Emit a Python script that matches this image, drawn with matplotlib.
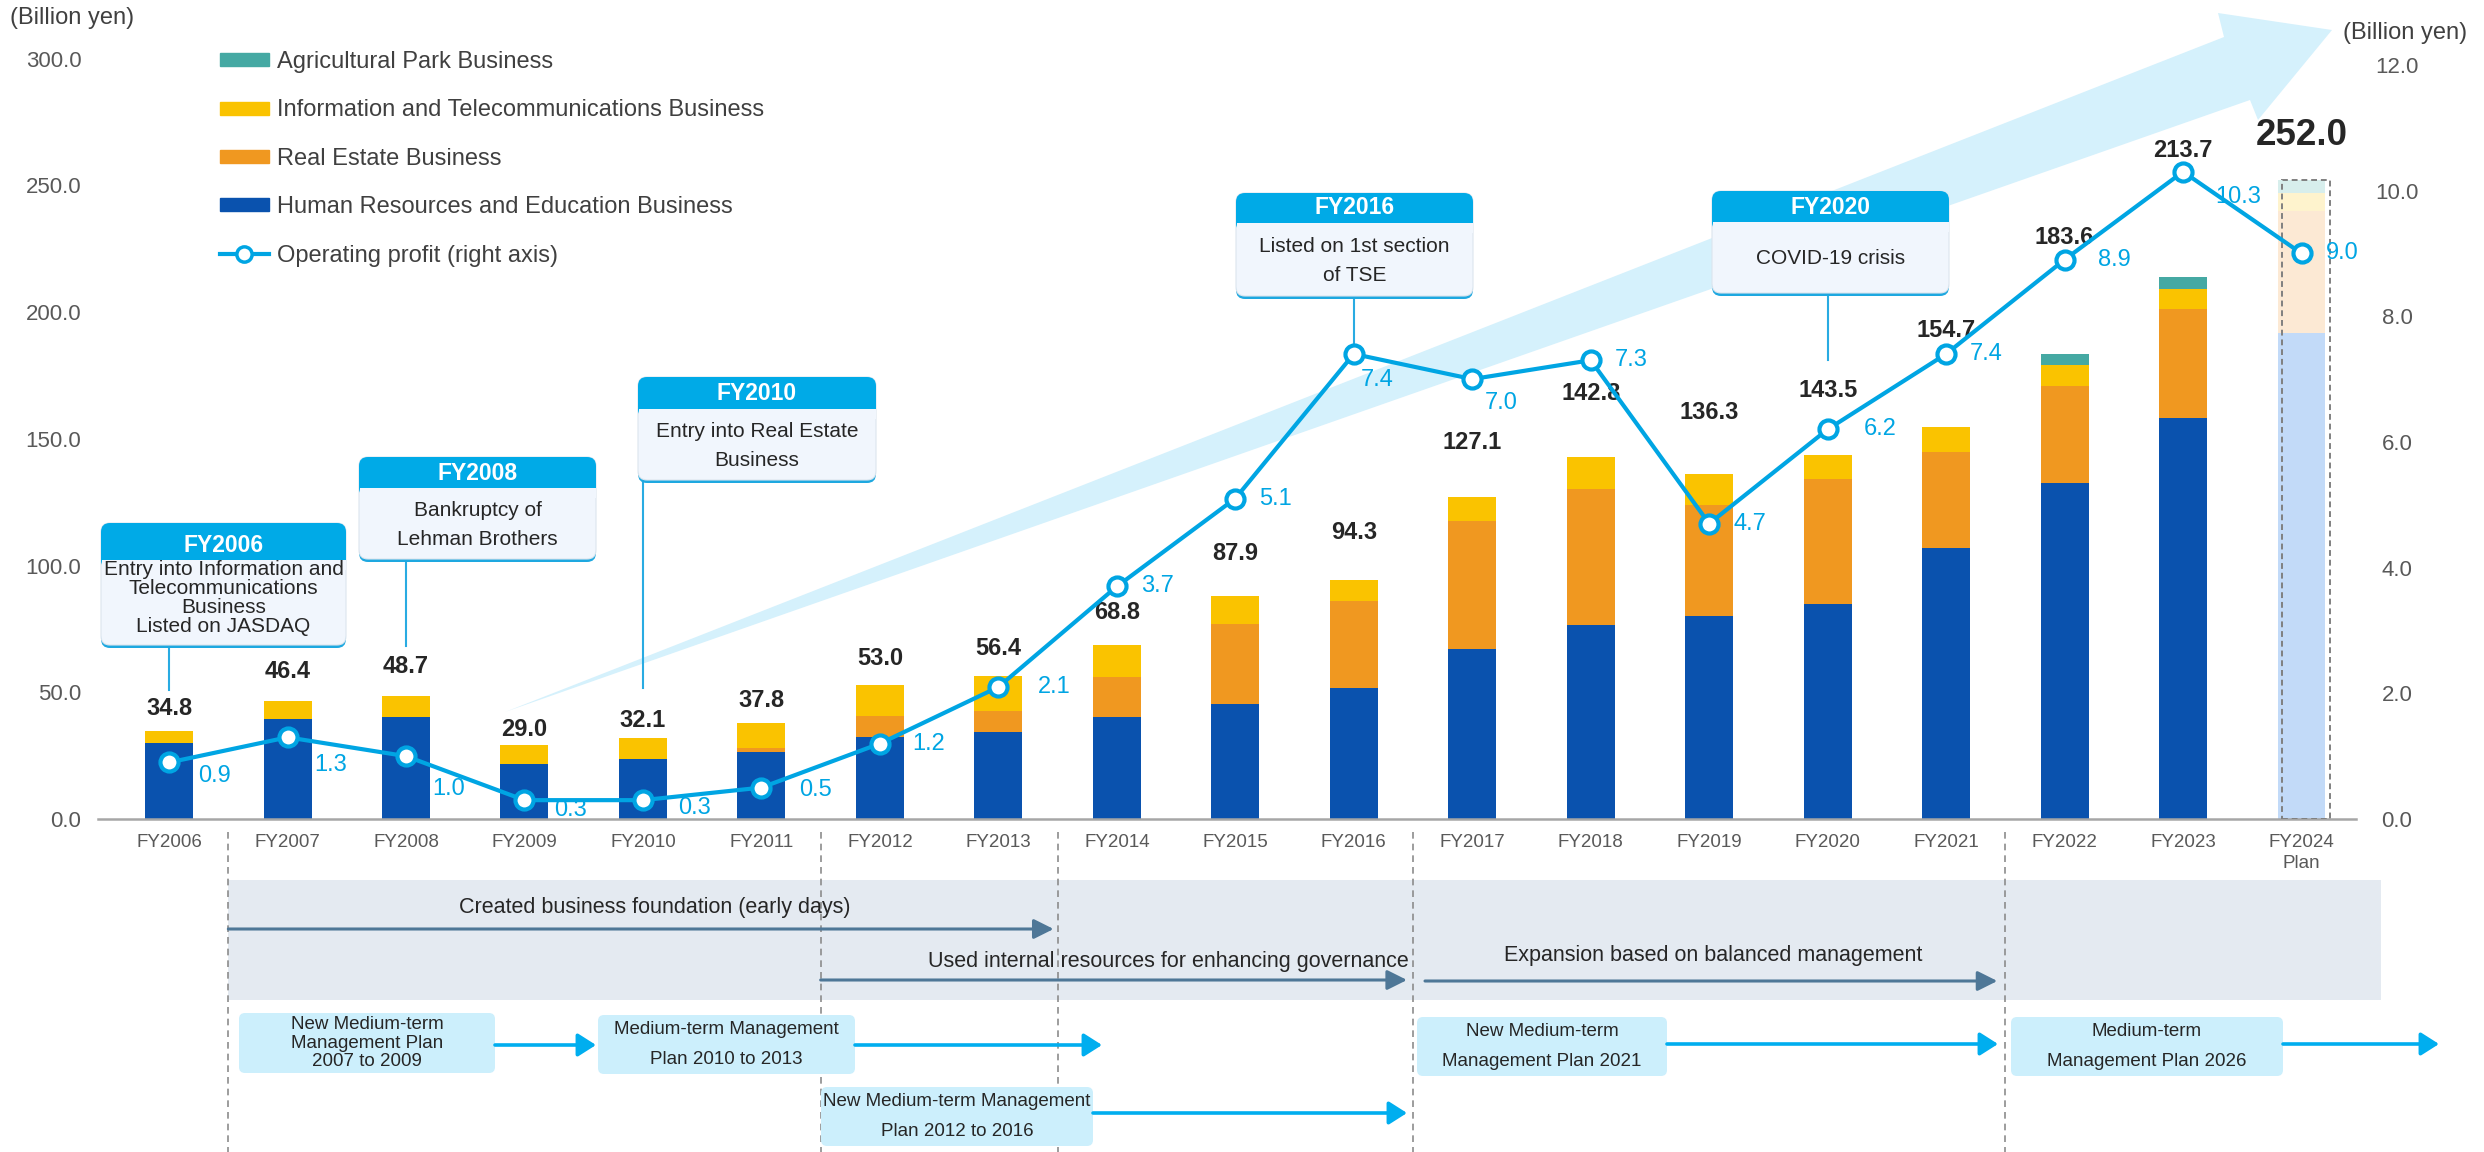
import matplotlib.pyplot as plt
from matplotlib.patches import Rectangle, FancyBboxPatch, Polygon, Patch
from matplotlib.lines import Line2D

plt.rcParams['font.family'] = ['Liberation Sans', 'DejaVu Sans']

# ---- data (billion yen) ----
years = ['FY2006', 'FY2007', 'FY2008', 'FY2009', 'FY2010', 'FY2011', 'FY2012',
         'FY2013', 'FY2014', 'FY2015', 'FY2016', 'FY2017', 'FY2018', 'FY2019',
         'FY2020', 'FY2021', 'FY2022', 'FY2023', 'FY2024\nPlan']
hr_edu = [29.8, 39.4, 40.3, 21.8, 23.8, 26.6, 32.2, 34.2, 40.3, 45.3, 51.5,
          67.2, 76.7, 80.1, 84.8, 106.8, 132.7, 158.2, 191.9]
real_estate = [0, 0, 0, 0, 0, 1.6, 8.3, 8.4, 15.6, 31.7, 34.6,
               50.5, 53.5, 43.7, 49.5, 38.0, 38.2, 43.2, 47.8]
info_tel = [5.0, 7.0, 8.4, 7.2, 8.3, 9.6, 12.5, 13.8, 12.9, 10.9, 8.2,
            9.4, 12.6, 12.5, 9.2, 9.9, 8.3, 7.6, 7.2]
agri_park = [0, 0, 0, 0, 0, 0, 0, 0, 0, 0, 0, 0, 0, 0, 0, 0, 4.4, 4.7, 5.1]
op_profit = [0.9, 1.3, 1.0, 0.3, 0.3, 0.5, 1.2, 2.1, 3.7, 5.1, 7.4,
             7.0, 7.3, 4.7, 6.2, 7.4, 8.9, 10.3, 9.0]

event_years = ['FY2006', 'FY2008', 'FY2010', 'FY2016', 'FY2020']
event_texts = ['Entry into Information and\nTelecommunications\nBusiness\nListed on JASDAQ',
               'Bankruptcy of\nLehman Brothers',
               'Entry into Real Estate\nBusiness',
               'Listed on 1st section\nof TSE',
               'COVID-19 crisis']

phase_texts = ['Created business foundation (early days)',
               'Used internal resources for enhancing governance',
               'Expansion based on balanced management']
plan_texts = ['New Medium-term\nManagement Plan\n2007 to 2009',
              'Medium-term Management\nPlan 2010 to 2013',
              'New Medium-term Management\nPlan 2012 to 2016',
              'New Medium-term\nManagement Plan 2021',
              'Medium-term\nManagement Plan 2026']

# ---- colours ----
C_HR, C_RE, C_IT, C_AG = '#0A52AE', '#F09820', '#FAC300', '#45A9A3'
P_HR, P_RE, P_IT, P_AG = '#C2DAF8', '#FCE9D4', '#FEF3CD', '#D7EEEC'
C_OP = '#00A5E3'
TXT = '#262626'
TICK = '#595959'

W, H = 2484, 1152
fig = plt.figure(figsize=(W / 100, H / 100), dpi=100)

# full-canvas pixel frame (y downwards) for the decorations
bg = fig.add_axes([0, 0, 1, 1])
bg.set_xlim(0, W)
bg.set_ylim(H, 0)
bg.axis('off')

ax = fig.add_axes([98 / W, 1 - 819 / H, (2356 - 98) / W, (819 - 58.6) / H])
ax.set_xlim(-0.6, 18.46)
ax.set_ylim(0, 300)
ax2 = ax.twinx()
ax2.set_ylim(0, 12.1)
bg.set_zorder(1)
ax.set_zorder(2)
ax2.set_zorder(3)
ax.patch.set_visible(False)
ax2.patch.set_visible(False)


def xp(i):
    """pixel column of a category position"""
    return ax.transData.transform((i, 0))[0]


n = len(years)
x = list(range(n))
plan = n - 1
bw = 0.405


def cols(c, p):
    return [c] * plan + [p]


# ---- stacked bars ----
b1 = hr_edu
b2 = [a + b for a, b in zip(b1, real_estate)]
b3 = [a + b for a, b in zip(b2, info_tel)]
totals = [a + b for a, b in zip(b3, agri_park)]
ax.bar(x, hr_edu, width=bw, color=cols(C_HR, P_HR), zorder=2)
ax.bar(x, real_estate, width=bw, bottom=b1, color=cols(C_RE, P_RE), zorder=2)
ax.bar(x, info_tel, width=bw, bottom=b2, color=cols(C_IT, P_IT), zorder=2)
ax.bar(x, agri_park, width=bw, bottom=b3, color=cols(C_AG, P_AG), zorder=2)
ax.add_patch(Rectangle((plan - bw / 2 + 0.04, 0), bw, totals[plan], fill=False,
                       ec='#808080', lw=1.4, ls=(0, (3, 2)), zorder=3))

label_pad = [8.6, 11.6, 11.3, 6.5, 6.6, 8.8, 10.5, 11, 12.5, 17, 18.6,
             21.6, 25, 24, 25.5, 38, 46, 50, 17.5]
for i, t in enumerate(totals):
    ax.text(i, t + label_pad[i], f'{t:.1f}', ha='center', va='center',
            fontsize=26.5 if i == plan else 17, fontweight='bold', color=TXT, zorder=5)

# ---- operating profit ----
ax2.plot(x, op_profit, color=C_OP, lw=3, marker='o', ms=13, mfc='white',
         mec=C_OP, mew=3, zorder=4)
op_off = [(33, -10), (31, -20), (31, -24), (33, -7), (37, -6), (39, -2), (35, 0),
          (40, 0), (29, 0), (29, 0), (17, -19), (21, -17), (29, 0), (29, 0),
          (38, 0), (29, 0), (36, 0), (40, -18), (29, 0)]
for i, v in enumerate(op_profit):
    ax2.annotate(f'{v:.1f}', (i, v), xytext=op_off[i], textcoords='offset points',
                 ha='center', va='center', fontsize=17, color=C_OP)

# ---- axes styling ----
for s in ['top', 'left', 'right']:
    ax.spines[s].set_visible(False)
for s in ax2.spines.values():
    s.set_visible(False)
ax.spines['bottom'].set_color('#A6A6A6')
ax.spines['bottom'].set_linewidth(1.8)

ax.set_xticks(x)
ax.set_xticklabels(years)
ax.set_yticks(range(0, 301, 50))
ax.set_yticklabels([f'{v:.1f}' for v in range(0, 301, 50)])
ax.tick_params(axis='both', length=0, labelcolor=TICK)
ax.tick_params(axis='y', labelsize=16, pad=12)
ax.tick_params(axis='x', labelsize=13.5, pad=11)
for lbl in ax.get_xticklabels():
    lbl.set_linespacing(1.25)

ax2.set_yticks(range(0, 13, 2))
ax2.set_yticklabels([f'{v:.1f}' for v in range(0, 13, 2)])
ax2.tick_params(axis='y', length=0, labelsize=16, labelcolor=TICK, pad=29.5)
for lbl in ax2.get_yticklabels():
    lbl.set_ha('center')

bg.text(10, 18, '(Billion yen)', ha='left', va='center', fontsize=17, color='#404040')
bg.text(2405, 33, '(Billion yen)', ha='center', va='center', fontsize=17, color='#404040')

# ---- legend ----
handles = [Patch(color=C_AG), Patch(color=C_IT), Patch(color=C_RE), Patch(color=C_HR),
           Line2D([], [], color=C_OP, lw=3, marker='o', ms=11, mfc='white', mew=2.5)]
labels = ['Agricultural Park Business', 'Information and Telecommunications Business',
          'Real Estate Business', 'Human Resources and Education Business',
          'Operating profit (right axis)']
leg = bg.legend(handles, labels, loc='upper left', bbox_to_anchor=(220 / W, 1 - 51 / H),
                frameon=False, fontsize=17, handlelength=2.07, handleheight=0.47,
                handletextpad=0.35, labelspacing=1.12, borderpad=0, borderaxespad=0)
for t in leg.get_texts():
    t.set_color('#404040')

# ---- growth arrow in the background ----
bg.add_patch(Polygon([(505, 712), (2224, 37), (2218, 13), (2332, 30), (2258, 120), (2250, 100)],
                     closed=True, fc='#D5F1FC', ec='none', zorder=1))

# ---- event callouts ----
box_geom = [(101, 346, 523, 560, 645, 545, 598, 1.0, 690),
            (359, 596, 457, 488, 559, 473, 525, 1.7, 646),
            (638, 876, 377, 409, 480, 393, 446, 1.7, 688),
            (1236, 1473, 193, 223, 296, 208, 261, 1.7, 345),
            (1712, 1949, 191, 222, 293, 207, 258, 1.7, 360)]
r = 9
for yr, txt, g in zip(event_years, event_texts, box_geom):
    x0, x1, top, mid, bot, ty, by, ls, end = g
    w = x1 - x0
    rs = f'round,pad=0,rounding_size={r}'
    bg.add_patch(FancyBboxPatch((x0, top), w, bot - top + 3, boxstyle=rs,
                                fc='#1EA8E0', ec='none', zorder=3))
    bg.add_patch(FancyBboxPatch((x0, top), w, bot - top, boxstyle=rs,
                                fc='#F1F6FD', ec='#DCE5EE', lw=0.8, zorder=4))
    bg.add_patch(FancyBboxPatch((x0, top), w, mid - top + r, boxstyle=rs,
                                fc='#00AAE7', ec='none', zorder=5))
    bg.add_patch(Rectangle((x0 + 0.5, mid), w - 1, r + 1, fc='#F1F6FD', ec='none', zorder=6))
    bg.text((x0 + x1) / 2, ty, yr, ha='center', va='center', fontsize=16.5,
            fontweight='bold', color='white', zorder=7)
    bg.text((x0 + x1) / 2, by, txt, ha='center', va='center', fontsize=15,
            color=TXT, linespacing=ls, zorder=7)
    cx = xp(years.index(yr))
    bg.plot([cx, cx], [bot + 3, end], color='#29ABE2', lw=1.5, zorder=2)

# ---- business phases ----
bg.add_patch(Rectangle((xp(0.5), 880), 2381 - xp(0.5), 120, fc='#E4EAF1', ec='none', zorder=1))
for b in [0.5, 5.5, 7.5, 10.5, 15.5]:
    bg.plot([xp(b), xp(b)], [832, H], color='#8C8C8C', lw=1.2, ls=(0, (4, 3)), zorder=2)


def arrow(x0, x1, y, color, lw, hl, hw):
    bg.annotate('', xy=(x1, y), xytext=(x0, y),
                arrowprops=dict(arrowstyle=f'-|>,head_length={hl},head_width={hw}',
                                color=color, lw=lw, shrinkA=0, shrinkB=0,
                                mutation_scale=20), zorder=4)


DARK = '#4E7797'
arrow(xp(0.5), xp(7.5) - 4, 929, DARK, 2.2, 0.6, 0.3)
bg.text(655, 908, phase_texts[0], ha='center', va='center', fontsize=15.5, color=TXT, zorder=4)
arrow(xp(5.5), xp(10.5) - 6, 980, DARK, 2.2, 0.6, 0.3)
bg.text(xp(10.5) - 4, 961, phase_texts[1], ha='right', va='center', fontsize=15.5, color=TXT, zorder=4)
arrow(xp(10.5) + 12, xp(15.5) - 8, 981, DARK, 2.2, 0.6, 0.3)
bg.text(1713, 955, phase_texts[2], ha='center', va='center', fontsize=15.5, color=TXT, zorder=4)

# ---- medium-term plans ----
plan_geom = [(239, 495, 1013, 1073, 1045, 596, 1.15),
             (598, 855, 1015, 1074, 1045, 1102, 1.95),
             (821, 1093, 1087, 1146, 1113, 1407, 1.95),
             (1417, 1667, 1017, 1076, 1044, 1998, 1.95),
             (2011, 2283, 1017, 1076, 1044, 2439, 1.95)]
LIGHT = '#00AEEF'
for txt, g in zip(plan_texts, plan_geom):
    x0, x1, top, bot, ay, aend, ls = g
    bg.add_patch(FancyBboxPatch((x0, top), x1 - x0, bot - top,
                                boxstyle='round,pad=0,rounding_size=6',
                                fc='#CCEFFC', ec='none', zorder=3))
    bg.text((x0 + x1) / 2, (top + bot) / 2, txt, ha='center', va='center',
            fontsize=13.5, color=TXT, linespacing=ls, zorder=5)
    arrow(x1, aend, ay, LIGHT, 2.6, 0.55, 0.35)

fig.savefig('out.png', dpi=100)
